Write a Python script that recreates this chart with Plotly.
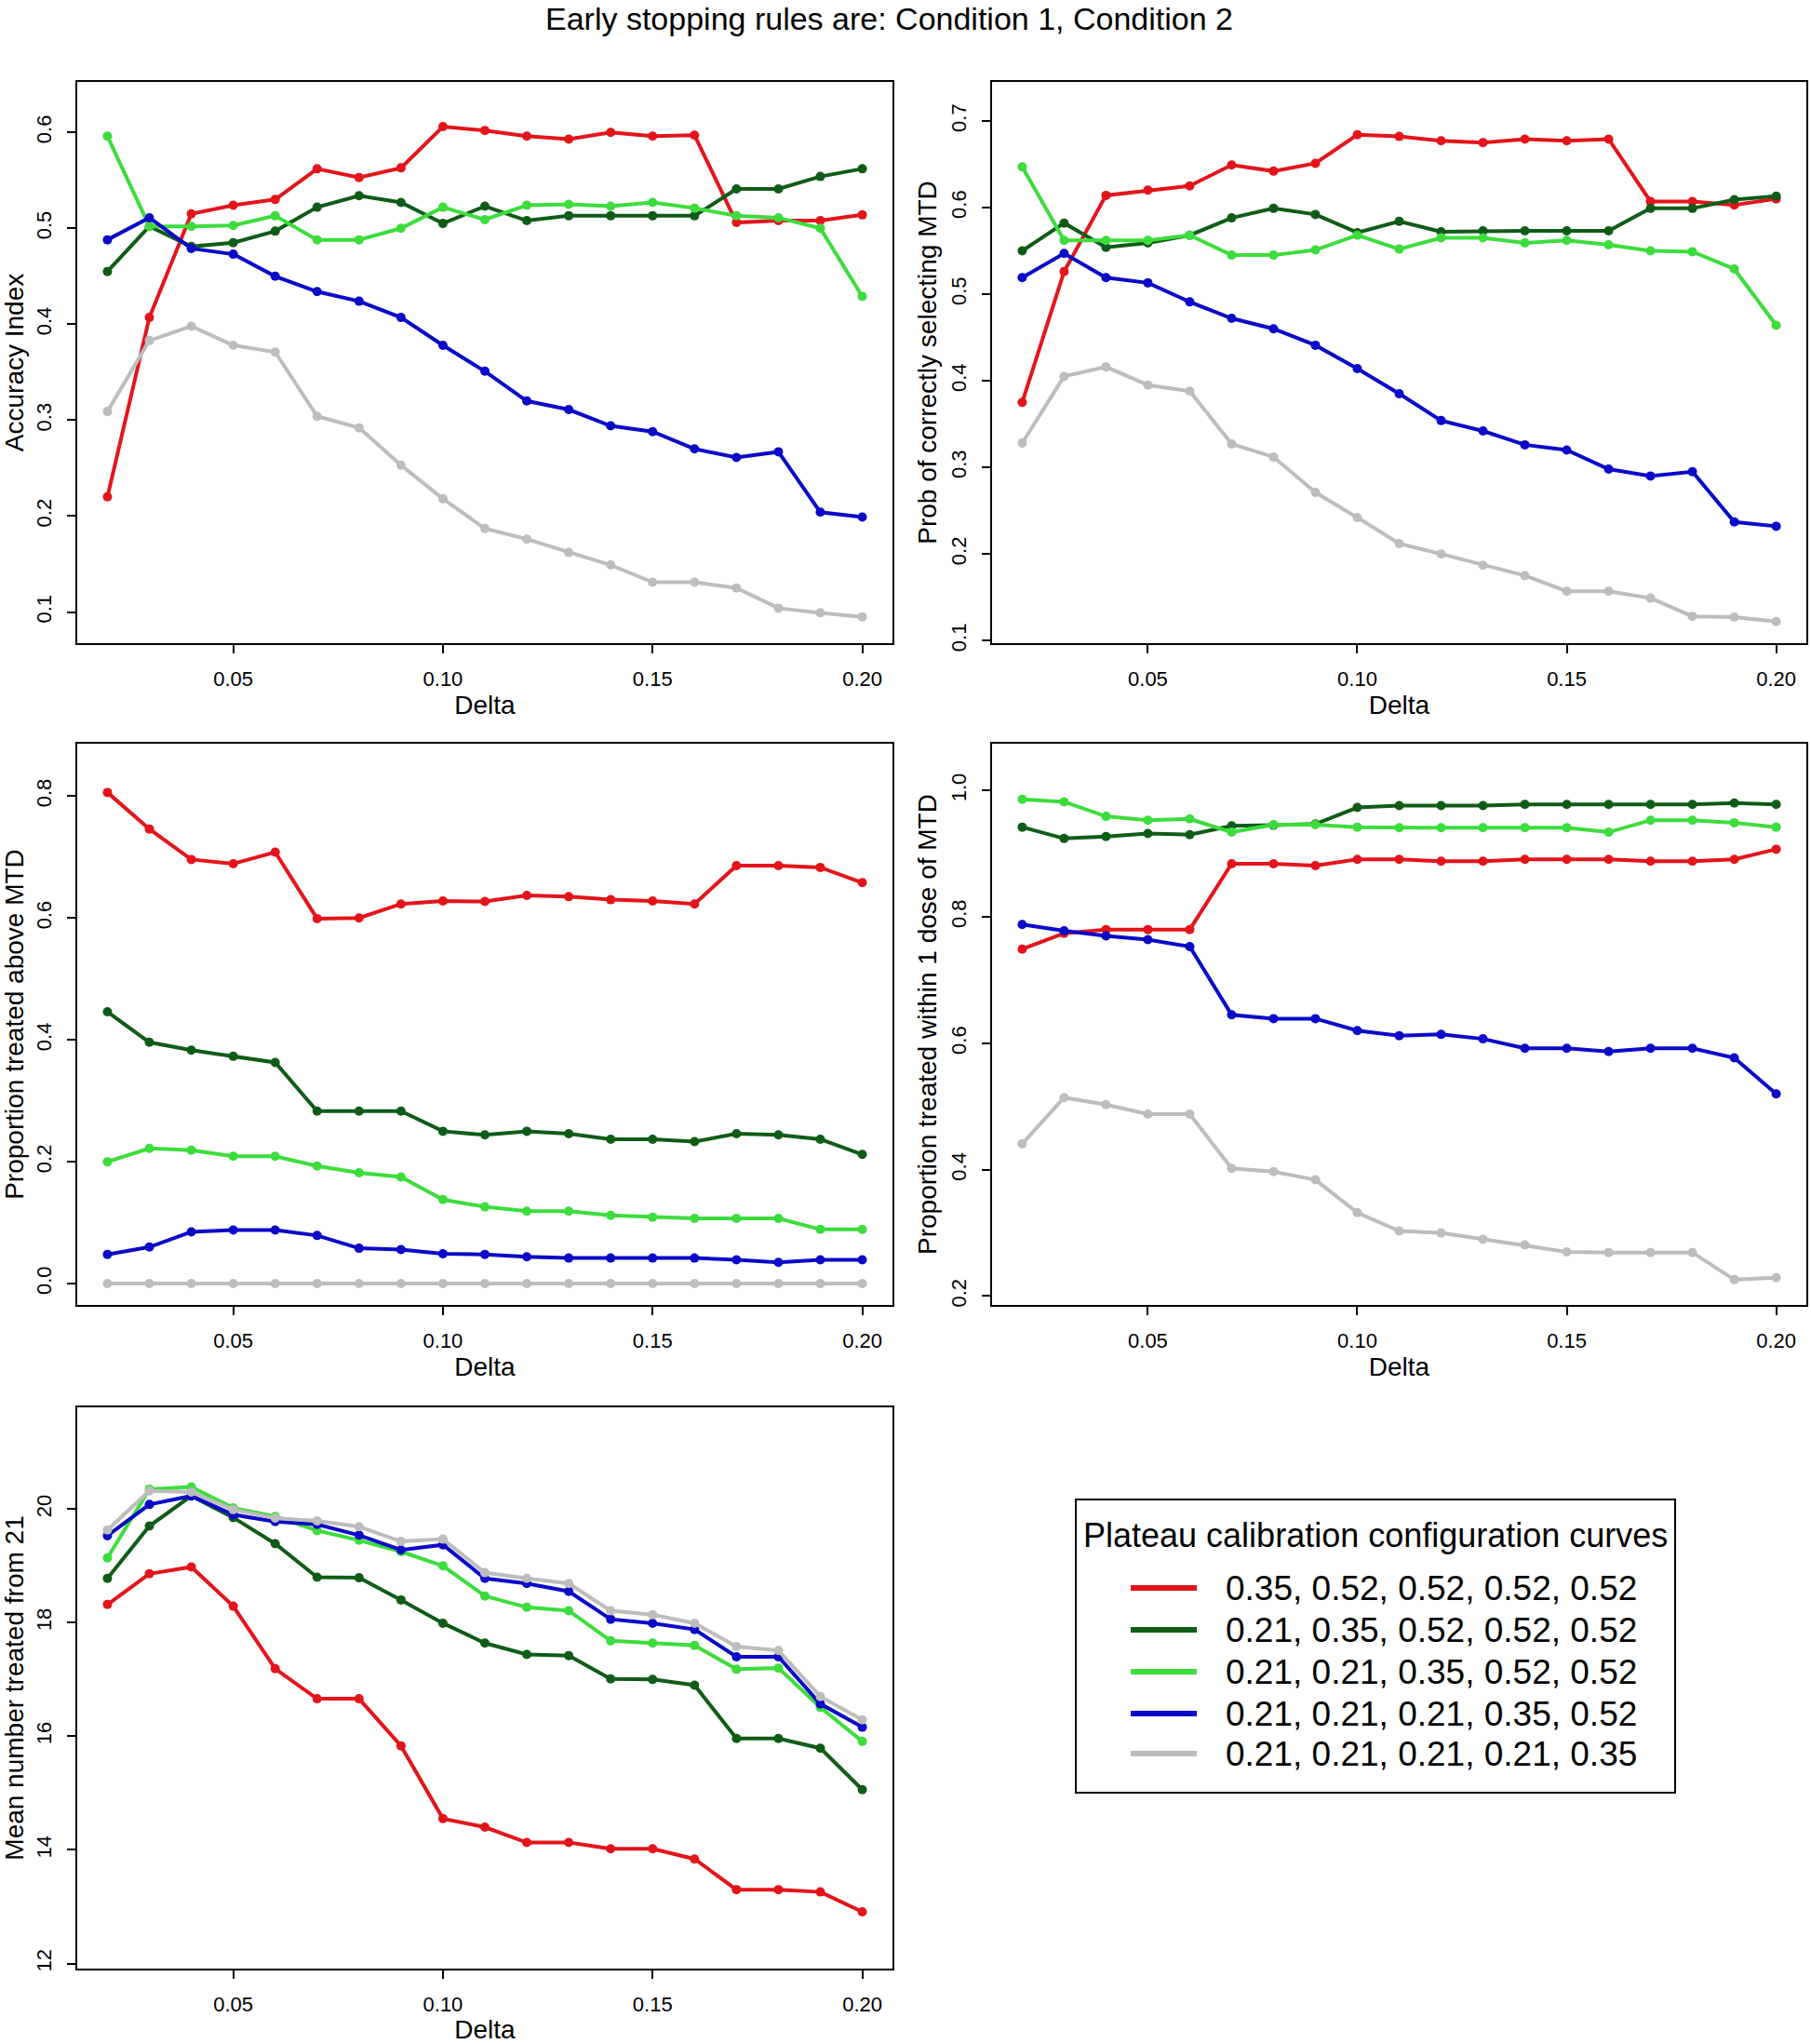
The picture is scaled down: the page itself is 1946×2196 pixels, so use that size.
import plotly.graph_objects as go

W, H = 1946, 2196

delta = [0.02, 0.03, 0.04, 0.05, 0.06, 0.07, 0.08, 0.09, 0.10, 0.11,
         0.12, 0.13, 0.14, 0.15, 0.16, 0.17, 0.18, 0.19, 0.20]

config_labels = ["0.35, 0.52, 0.52, 0.52, 0.52",
                 "0.21, 0.35, 0.52, 0.52, 0.52",
                 "0.21, 0.21, 0.35, 0.52, 0.52",
                 "0.21, 0.21, 0.21, 0.35, 0.52",
                 "0.21, 0.21, 0.21, 0.21, 0.35"]
colors = ["#e3151b", "#0f5c17", "#3ddc3d", "#0a0ac8", "#bdbdbd"]

x_ticks = [0.05, 0.10, 0.15, 0.20]

# Panel 1: Accuracy Index
accuracy_index = [
    [0.220, 0.407, 0.515, 0.524, 0.530, 0.562, 0.553, 0.563, 0.606, 0.602,
     0.596, 0.593, 0.600, 0.596, 0.597, 0.506, 0.508, 0.508, 0.514],
    [0.455, 0.502, 0.481, 0.485, 0.497, 0.522, 0.534, 0.527, 0.505, 0.523,
     0.508, 0.513, 0.513, 0.513, 0.513, 0.541, 0.541, 0.554, 0.562],
    [0.596, 0.502, 0.502, 0.503, 0.513, 0.488, 0.488, 0.500, 0.522, 0.509,
     0.524, 0.525, 0.523, 0.527, 0.521, 0.513, 0.511, 0.500, 0.429],
    [0.488, 0.511, 0.479, 0.473, 0.450, 0.434, 0.424, 0.407, 0.378, 0.351,
     0.320, 0.311, 0.294, 0.288, 0.270, 0.261, 0.267, 0.204, 0.199],
    [0.309, 0.383, 0.398, 0.378, 0.371, 0.304, 0.292, 0.253, 0.218, 0.187,
     0.176, 0.162, 0.149, 0.131, 0.131, 0.125, 0.104, 0.099, 0.095],
]

# Panel 2: Prob of correctly selecting MTD
prob_correct_mtd = [
    [0.375, 0.526, 0.614, 0.620, 0.625, 0.649, 0.642, 0.651, 0.684, 0.682,
     0.677, 0.675, 0.679, 0.677, 0.679, 0.607, 0.607, 0.603, 0.610],
    [0.550, 0.582, 0.554, 0.559, 0.568, 0.588, 0.599, 0.592, 0.571, 0.584,
     0.572, 0.573, 0.573, 0.573, 0.573, 0.599, 0.599, 0.609, 0.613],
    [0.647, 0.562, 0.562, 0.562, 0.568, 0.545, 0.545, 0.551, 0.568, 0.552,
     0.565, 0.565, 0.559, 0.562, 0.557, 0.550, 0.549, 0.529, 0.464],
    [0.519, 0.547, 0.519, 0.513, 0.491, 0.472, 0.460, 0.441, 0.414, 0.385,
     0.354, 0.342, 0.326, 0.320, 0.298, 0.290, 0.295, 0.237, 0.232],
    [0.328, 0.405, 0.416, 0.395, 0.388, 0.327, 0.312, 0.271, 0.242, 0.212,
     0.200, 0.187, 0.175, 0.157, 0.157, 0.149, 0.128, 0.127, 0.122],
]

# Panel 3: Proportion treated above MTD
prop_above_mtd = [
    [0.806, 0.746, 0.696, 0.689, 0.708, 0.599, 0.600, 0.623, 0.628, 0.627,
     0.637, 0.635, 0.630, 0.628, 0.623, 0.686, 0.686, 0.683, 0.658],
    [0.446, 0.396, 0.383, 0.373, 0.363, 0.283, 0.283, 0.283, 0.250, 0.244,
     0.250, 0.246, 0.237, 0.237, 0.233, 0.246, 0.244, 0.237, 0.212],
    [0.200, 0.222, 0.219, 0.209, 0.209, 0.193, 0.182, 0.175, 0.138, 0.126,
     0.119, 0.119, 0.112, 0.109, 0.107, 0.107, 0.107, 0.089, 0.089],
    [0.048, 0.060, 0.085, 0.088, 0.088, 0.079, 0.058, 0.056, 0.049, 0.048,
     0.044, 0.042, 0.042, 0.042, 0.042, 0.039, 0.035, 0.039, 0.039],
    [0.000, 0.000, 0.000, 0.000, 0.000, 0.000, 0.000, 0.000, 0.000, 0.000,
     0.000, 0.000, 0.000, 0.000, 0.000, 0.000, 0.000, 0.000, 0.000],
]

# Panel 4: Proportion treated within 1 dose of MTD
prop_within_1_dose = [
    [0.749, 0.774, 0.780, 0.780, 0.780, 0.884, 0.884, 0.881, 0.891, 0.891,
     0.888, 0.888, 0.891, 0.891, 0.891, 0.888, 0.888, 0.891, 0.907],
    [0.942, 0.924, 0.927, 0.932, 0.930, 0.944, 0.945, 0.947, 0.973, 0.976,
     0.976, 0.976, 0.978, 0.978, 0.978, 0.978, 0.978, 0.980, 0.978],
    [0.986, 0.982, 0.959, 0.953, 0.955, 0.934, 0.946, 0.946, 0.942, 0.941,
     0.941, 0.941, 0.941, 0.941, 0.934, 0.953, 0.953, 0.949, 0.942],
    [0.788, 0.778, 0.770, 0.764, 0.753, 0.645, 0.639, 0.639, 0.620, 0.612,
     0.614, 0.607, 0.592, 0.592, 0.587, 0.592, 0.592, 0.577, 0.520],
    [0.441, 0.514, 0.503, 0.488, 0.488, 0.402, 0.397, 0.384, 0.332, 0.303,
     0.300, 0.290, 0.281, 0.270, 0.269, 0.269, 0.269, 0.226, 0.229],
]

# Panel 5: Mean number treated from 21
mean_treated = [
    [18.32, 18.86, 18.98, 18.29, 17.19, 16.66, 16.66, 15.83, 14.55, 14.40,
     14.13, 14.13, 14.02, 14.02, 13.84, 13.30, 13.30, 13.26, 12.91],
    [18.78, 19.70, 20.23, 19.85, 19.39, 18.80, 18.79, 18.40, 17.99, 17.64,
     17.44, 17.42, 17.01, 17.00, 16.90, 15.96, 15.96, 15.79, 15.06],
    [19.14, 20.35, 20.39, 20.02, 19.87, 19.62, 19.45, 19.25, 19.00, 18.47,
     18.27, 18.21, 17.68, 17.64, 17.60, 17.18, 17.20, 16.51, 15.91],
    [19.53, 20.08, 20.23, 19.90, 19.78, 19.73, 19.54, 19.28, 19.37, 18.78,
     18.69, 18.55, 18.06, 17.99, 17.88, 17.40, 17.40, 16.57, 16.16],
    [19.63, 20.32, 20.30, 19.99, 19.84, 19.79, 19.69, 19.43, 19.47, 18.88,
     18.78, 18.69, 18.21, 18.14, 17.99, 17.58, 17.51, 16.70, 16.29],
]

y_titles = ["Accuracy Index", "Prob of correctly selecting MTD",
            "Proportion treated above MTD", "Proportion treated within 1 dose of MTD",
            "Mean number treated from 21"]
y_ticks = [[0.1, 0.2, 0.3, 0.4, 0.5, 0.6],
           [0.1, 0.2, 0.3, 0.4, 0.5, 0.6, 0.7],
           [0.0, 0.2, 0.4, 0.6, 0.8],
           [0.2, 0.4, 0.6, 0.8, 1.0],
           [12, 14, 16, 18, 20]]
y_fmt = [".1f", ".1f", ".1f", ".1f", "d"]
y_ranges = [[0.0675, 0.6526], [0.097, 0.745], [-0.035, 0.886], [0.186, 1.074], [11.91, 21.79]]
x_range = [0.0128, 0.2072]

panels = [accuracy_index, prob_correct_mtd, prop_above_mtd, prop_within_1_dose, mean_treated]

# Panel boxes in page pixels (left, right, top, bottom)
boxes = [(83, 959, 88, 691), (1066, 1941, 88, 691),
         (83, 959, 799, 1402), (1066, 1941, 799, 1402),
         (83, 959, 1512, 2115)]


def px(x):
    return x / W


def py(y):
    return 1 - y / H


FONT = "Liberation Sans, Arial, sans-serif"
fig = go.Figure()

for i, data in enumerate(panels):
    n = i + 1
    for s in range(5):
        fig.add_trace(go.Scatter(
            x=delta, y=data[s], mode="lines+markers",
            line=dict(color=colors[s], width=4),
            marker=dict(color=colors[s], size=10),
            name=config_labels[s], showlegend=False,
            xaxis=f"x{n}", yaxis=f"y{n}"))
    l, r, t, b = boxes[i]
    common = dict(showline=True, mirror=True, linecolor="black", linewidth=1.5,
                  ticks="outside", ticklen=9, tickwidth=1.5, tickcolor="black",
                  showgrid=False, zeroline=False, automargin=False,
                  tickfont=dict(size=22, color="black", family=FONT))
    fig.layout[f"xaxis{n}"] = dict(
        domain=[px(l), px(r)], anchor=f"y{n}", range=x_range,
        tickvals=x_ticks, tickformat=".2f", ticklabelstandoff=9,
        title=dict(text="Delta", font=dict(size=28, color="black", family=FONT), standoff=2),
        **common)
    fig.layout[f"yaxis{n}"] = dict(
        domain=[py(b), py(t)], anchor=f"x{n}", range=y_ranges[i],
        tickvals=y_ticks[i], tickformat=y_fmt[i], tickangle=-90, ticklabelstandoff=8,
        title=dict(text=y_titles[i], font=dict(size=28, color="black", family=FONT), standoff=4),
        **common)

# Overall title
annotations = [dict(text="Early stopping rules are: Condition 1, Condition 2",
                    x=px(955), y=1, xref="paper", yref="paper",
                    xanchor="center", yanchor="top", showarrow=False, borderpad=0,
                    font=dict(size=34, color="black", family=FONT))]

# Legend drawn manually
shapes = [dict(type="rect", xref="paper", yref="paper",
               x0=px(1156), x1=px(1800), y0=py(1926), y1=py(1611),
               line=dict(color="black", width=2), fillcolor="white", layer="below")]
annotations.append(dict(text="Plateau calibration configuration curves",
                        x=px(1478), y=py(1649), xref="paper", yref="paper",
                        xanchor="center", yanchor="middle", showarrow=False,
                        font=dict(size=36, color="black", family=FONT)))
row_y = [1706, 1751, 1796, 1841, 1884]
for s in range(5):
    yy = py(row_y[s])
    shapes.append(dict(type="line", xref="paper", yref="paper",
                       x0=px(1215), x1=px(1286), y0=yy, y1=yy,
                       line=dict(color=colors[s], width=6)))
    annotations.append(dict(text=config_labels[s], x=px(1315), y=yy,
                            xref="paper", yref="paper", xanchor="left", yanchor="middle",
                            showarrow=False, font=dict(size=37, color="black", family=FONT)))

fig.update_layout(width=W, height=H, margin=dict(l=0, r=0, t=0, b=0),
                  paper_bgcolor="white", plot_bgcolor="white",
                  font=dict(family=FONT, color="black"),
                  shapes=shapes, annotations=annotations, showlegend=False)

fig.write_html("out.html", config={"displayModeBar": False},
               post_script="document.body.style.margin='0px';document.body.style.overflow='hidden';")
